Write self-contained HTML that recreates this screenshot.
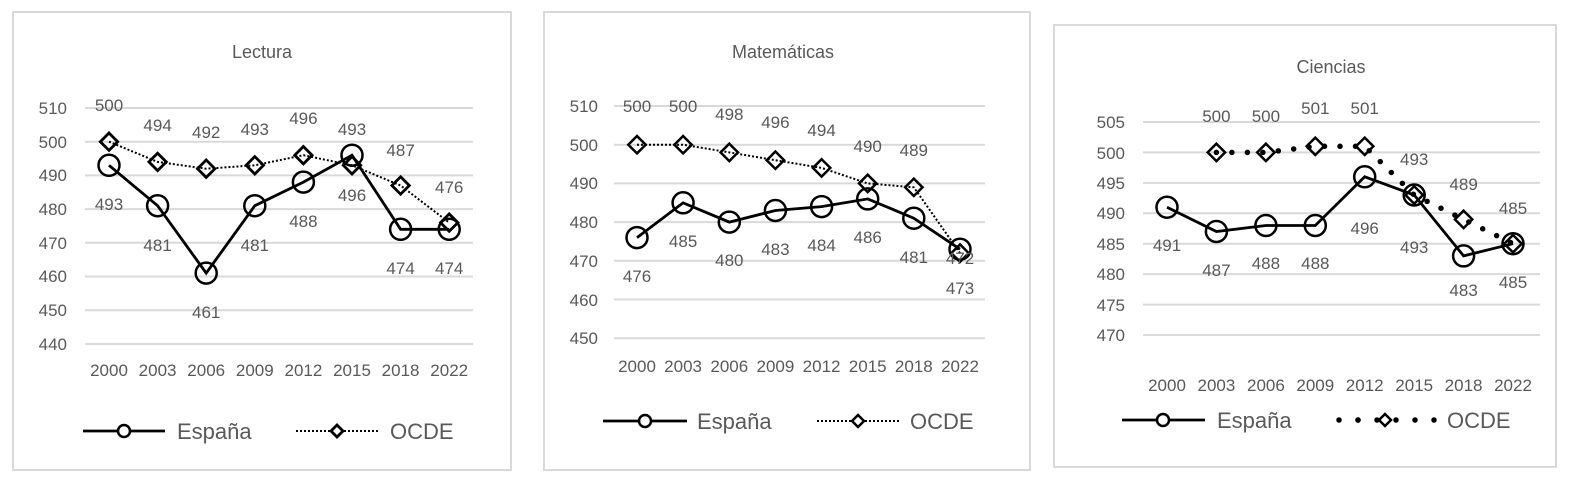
<!DOCTYPE html>
<html><head><meta charset="utf-8"><style>
body{margin:0;background:#fff}
svg text{font-family:"Liberation Sans",sans-serif;fill:#595959}
</style></head><body>
<svg width="1594" height="492" viewBox="0 0 1594 492" xmlns="http://www.w3.org/2000/svg">
<g fill="none" stroke="#d9d9d9" stroke-width="2">
<rect x="13" y="12" width="498" height="458"/>
<rect x="544" y="12" width="486" height="458"/>
<rect x="1054" y="25" width="502" height="442"/>
</g>
<!-- Chart 1 -->
<text x="262" y="58" font-size="18" text-anchor="middle">Lectura</text>
<g stroke="#d9d9d9" stroke-width="2">
<line x1="85" x2="473" y1="108" y2="108"/><line x1="85" x2="473" y1="141.7" y2="141.7"/><line x1="85" x2="473" y1="175.4" y2="175.4"/><line x1="85" x2="473" y1="209.1" y2="209.1"/><line x1="85" x2="473" y1="242.8" y2="242.8"/><line x1="85" x2="473" y1="276.5" y2="276.5"/><line x1="85" x2="473" y1="310.2" y2="310.2"/><line x1="85" x2="473" y1="344" y2="344"/>
</g>
<g font-size="17" text-anchor="end">
<text x="67" y="114">510</text><text x="67" y="148">500</text><text x="67" y="181">490</text><text x="67" y="215">480</text><text x="67" y="249">470</text><text x="67" y="282">460</text><text x="67" y="316">450</text><text x="67" y="350">440</text>
</g>
<g font-size="17" text-anchor="middle">
<text x="109" y="376">2000</text><text x="157.6" y="376">2003</text><text x="206.2" y="376">2006</text><text x="254.8" y="376">2009</text><text x="303.4" y="376">2012</text><text x="352" y="376">2015</text><text x="400.6" y="376">2018</text><text x="449.2" y="376">2022</text>
</g>
<polyline fill="none" stroke="#000" stroke-width="2" stroke-dasharray="2,2" points="109,141.7 157.6,161.9 206.2,168.7 254.8,165.3 303.4,155.2 352,165.3 400.6,185.5 449.2,222.6"/>
<polyline fill="none" stroke="#000" stroke-width="2.8" points="109,165.3 157.6,205.7 206.2,273.1 254.8,205.7 303.4,182.1 352,155.2 400.6,229.3 449.2,229.3"/>
<g fill="none" stroke="#000" stroke-width="2.5">
<circle cx="109" cy="165.3" r="10.5"/><circle cx="157.6" cy="205.7" r="10.5"/><circle cx="206.2" cy="273.1" r="10.5"/><circle cx="254.8" cy="205.7" r="10.5"/><circle cx="303.4" cy="182.1" r="10.5"/><circle cx="352" cy="155.2" r="10.5"/><circle cx="400.6" cy="229.3" r="10.5"/><circle cx="449.2" cy="229.3" r="10.5"/>
</g>
<g fill="none" stroke="#000" stroke-width="2.8">
<path d="M109,133l8.7,8.7-8.7,8.7-8.7-8.7z"/><path d="M157.6,153.2l8.7,8.7-8.7,8.7-8.7-8.7z"/><path d="M206.2,160l8.7,8.7-8.7,8.7-8.7-8.7z"/><path d="M254.8,156.6l8.7,8.7-8.7,8.7-8.7-8.7z"/><path d="M303.4,146.5l8.7,8.7-8.7,8.7-8.7-8.7z"/><path d="M352,156.6l8.7,8.7-8.7,8.7-8.7-8.7z"/><path d="M400.6,176.8l8.7,8.7-8.7,8.7-8.7-8.7z"/><path d="M449.2,213.9l8.7,8.7-8.7,8.7-8.7-8.7z"/>
</g>
<g font-size="17" text-anchor="middle">
<text x="109" y="111">500</text><text x="157.6" y="131">494</text><text x="206.2" y="138">492</text><text x="254.8" y="135">493</text><text x="303.4" y="124">496</text><text x="352" y="135">493</text><text x="400.6" y="156">487</text><text x="449.2" y="193">476</text>
<text x="109" y="210">493</text><text x="157.6" y="251">481</text><text x="206.2" y="318">461</text><text x="254.8" y="251">481</text><text x="303.4" y="227">488</text><text x="352" y="201">496</text><text x="400.6" y="274">474</text><text x="449.2" y="274">474</text>
</g>
<line x1="83" x2="165" y1="431" y2="431" stroke="#000" stroke-width="2.8"/>
<circle cx="124" cy="431" r="6" fill="#fff" stroke="#000" stroke-width="2.5"/>
<text x="177" y="439" font-size="22">España</text>
<line x1="296" x2="378" y1="431" y2="431" stroke="#000" stroke-width="2" stroke-dasharray="2,2"/>
<path d="M337,425l6,6-6,6-6-6z" fill="#fff" stroke="#000" stroke-width="2.8"/>
<text x="390" y="439" font-size="22">OCDE</text>

<!-- Chart 2 -->
<text x="783" y="58" font-size="18" text-anchor="middle">Matemáticas</text>
<g stroke="#d9d9d9" stroke-width="2">
<line x1="614" x2="985" y1="106" y2="106"/><line x1="614" x2="985" y1="144.7" y2="144.7"/><line x1="614" x2="985" y1="183.4" y2="183.4"/><line x1="614" x2="985" y1="222.1" y2="222.1"/><line x1="614" x2="985" y1="260.8" y2="260.8"/><line x1="614" x2="985" y1="299.5" y2="299.5"/><line x1="614" x2="985" y1="338.2" y2="338.2"/>
</g>
<g font-size="17" text-anchor="end">
<text x="598" y="112">510</text><text x="598" y="151">500</text><text x="598" y="189">490</text><text x="598" y="228">480</text><text x="598" y="267">470</text><text x="598" y="306">460</text><text x="598" y="344">450</text>
</g>
<g font-size="17" text-anchor="middle">
<text x="637" y="372">2000</text><text x="683.1" y="372">2003</text><text x="729.3" y="372">2006</text><text x="775.4" y="372">2009</text><text x="821.6" y="372">2012</text><text x="867.7" y="372">2015</text><text x="913.8" y="372">2018</text><text x="960" y="372">2022</text>
</g>
<polyline fill="none" stroke="#000" stroke-width="2" stroke-dasharray="2,2" points="637,144.7 683.1,144.7 729.3,152.4 775.4,160.2 821.6,167.9 867.7,183.4 913.8,187.3 960,253.1"/>
<polyline fill="none" stroke="#000" stroke-width="2.8" points="637,237.6 683.1,202.8 729.3,222.1 775.4,210.5 821.6,206.6 867.7,198.9 913.8,218.2 960,249.2"/>
<g fill="none" stroke="#000" stroke-width="2.5">
<circle cx="637" cy="237.6" r="10.5"/><circle cx="683.1" cy="202.8" r="10.5"/><circle cx="729.3" cy="222.1" r="10.5"/><circle cx="775.4" cy="210.5" r="10.5"/><circle cx="821.6" cy="206.6" r="10.5"/><circle cx="867.7" cy="198.9" r="10.5"/><circle cx="913.8" cy="218.2" r="10.5"/><circle cx="960" cy="249.2" r="10.5"/>
</g>
<g fill="none" stroke="#000" stroke-width="2.5">
<path d="M637,136l8.7,8.7-8.7,8.7-8.7-8.7z"/><path d="M683.1,136l8.7,8.7-8.7,8.7-8.7-8.7z"/><path d="M729.3,143.7l8.7,8.7-8.7,8.7-8.7-8.7z"/><path d="M775.4,151.5l8.7,8.7-8.7,8.7-8.7-8.7z"/><path d="M821.6,159.2l8.7,8.7-8.7,8.7-8.7-8.7z"/><path d="M867.7,174.7l8.7,8.7-8.7,8.7-8.7-8.7z"/><path d="M913.8,178.6l8.7,8.7-8.7,8.7-8.7-8.7z"/><path d="M960,244.4l8.7,8.7-8.7,8.7-8.7-8.7z"/>
</g>
<g font-size="17" text-anchor="middle">
<text x="637" y="112">500</text><text x="683.1" y="112">500</text><text x="729.3" y="120">498</text><text x="775.4" y="128">496</text><text x="821.6" y="136">494</text><text x="867.7" y="152">490</text><text x="913.8" y="156">489</text><text x="960" y="264">472</text>
<text x="637" y="282">476</text><text x="683.1" y="247">485</text><text x="729.3" y="266">480</text><text x="775.4" y="255">483</text><text x="821.6" y="251">484</text><text x="867.7" y="243">486</text><text x="913.8" y="263">481</text><text x="960" y="294">473</text>
</g>
<line x1="603" x2="687" y1="421" y2="421" stroke="#000" stroke-width="2.8"/>
<circle cx="645" cy="421" r="6" fill="#fff" stroke="#000" stroke-width="2.5"/>
<text x="697" y="429" font-size="22">España</text>
<line x1="817" x2="900" y1="421" y2="421" stroke="#000" stroke-width="2" stroke-dasharray="2,2"/>
<path d="M858,415l6,6-6,6-6-6z" fill="#fff" stroke="#000" stroke-width="2.5"/>
<text x="910" y="429" font-size="22">OCDE</text>

<!-- Chart 3 -->
<text x="1331" y="73" font-size="18" text-anchor="middle">Ciencias</text>
<g stroke="#d9d9d9" stroke-width="2">
<line x1="1143" x2="1540" y1="122" y2="122"/><line x1="1143" x2="1540" y1="152.4" y2="152.4"/><line x1="1143" x2="1540" y1="182.9" y2="182.9"/><line x1="1143" x2="1540" y1="213.3" y2="213.3"/><line x1="1143" x2="1540" y1="243.7" y2="243.7"/><line x1="1143" x2="1540" y1="274.1" y2="274.1"/><line x1="1143" x2="1540" y1="304.6" y2="304.6"/><line x1="1143" x2="1540" y1="335" y2="335"/>
</g>
<g font-size="17" text-anchor="end">
<text x="1125" y="128">505</text><text x="1125" y="159">500</text><text x="1125" y="189">495</text><text x="1125" y="219">490</text><text x="1125" y="250">485</text><text x="1125" y="280">480</text><text x="1125" y="311">475</text><text x="1125" y="341">470</text>
</g>
<g font-size="17" text-anchor="middle">
<text x="1167" y="391">2000</text><text x="1216.4" y="391">2003</text><text x="1265.9" y="391">2006</text><text x="1315.3" y="391">2009</text><text x="1364.7" y="391">2012</text><text x="1414.2" y="391">2015</text><text x="1463.6" y="391">2018</text><text x="1513" y="391">2022</text>
</g>
<polyline fill="none" stroke="#000" stroke-width="5.5" stroke-linecap="round" stroke-dasharray="0,15.5" points="1216.4,152.4 1265.9,152.4 1315.3,146.3 1364.7,146.3 1414.2,195 1463.6,219.4 1513,243.7"/>
<polyline fill="none" stroke="#000" stroke-width="2.8" points="1167,207.2 1216.4,231.5 1265.9,225.5 1315.3,225.5 1364.7,176.8 1414.2,195 1463.6,255.9 1513,243.7"/>
<g fill="none" stroke="#000" stroke-width="2.5">
<circle cx="1167" cy="207.2" r="10.5"/><circle cx="1216.4" cy="231.5" r="10.5"/><circle cx="1265.9" cy="225.5" r="10.5"/><circle cx="1315.3" cy="225.5" r="10.5"/><circle cx="1364.7" cy="176.8" r="10.5"/><circle cx="1414.2" cy="195" r="10.5"/><circle cx="1463.6" cy="255.9" r="10.5"/><circle cx="1513" cy="243.7" r="10.5"/>
</g>
<g fill="none" stroke="#000" stroke-width="2.5">
<path d="M1216.4,143.7l8.7,8.7-8.7,8.7-8.7-8.7z"/><path d="M1265.9,143.7l8.7,8.7-8.7,8.7-8.7-8.7z"/><path d="M1315.3,137.6l8.7,8.7-8.7,8.7-8.7-8.7z"/><path d="M1364.7,137.6l8.7,8.7-8.7,8.7-8.7-8.7z"/><path d="M1414.2,186.3l8.7,8.7-8.7,8.7-8.7-8.7z"/><path d="M1463.6,210.7l8.7,8.7-8.7,8.7-8.7-8.7z"/><path d="M1513,235l8.7,8.7-8.7,8.7-8.7-8.7z"/>
</g>
<g font-size="17" text-anchor="middle">
<text x="1216.4" y="122">500</text><text x="1265.9" y="122">500</text><text x="1315.3" y="114">501</text><text x="1364.7" y="114">501</text><text x="1414.2" y="165">493</text><text x="1463.6" y="190">489</text><text x="1513" y="214">485</text>
<text x="1167" y="251">491</text><text x="1216.4" y="276">487</text><text x="1265.9" y="269">488</text><text x="1315.3" y="269">488</text><text x="1364.7" y="234">496</text><text x="1414.2" y="253">493</text><text x="1463.6" y="296">483</text><text x="1513" y="288">485</text>
</g>
<line x1="1122" x2="1205" y1="420" y2="420" stroke="#000" stroke-width="2.8"/>
<circle cx="1163" cy="420" r="6" fill="#fff" stroke="#000" stroke-width="2.5"/>
<text x="1217" y="428" font-size="22">España</text>
<line x1="1358" x2="1435" y1="420" y2="420" stroke="#000" stroke-width="5.5" stroke-linecap="round" stroke-dasharray="0,19"/>
<line x1="1339" x2="1377" y1="420" y2="420" stroke="#000" stroke-width="5.5" stroke-linecap="round" stroke-dasharray="0,19"/>
<path d="M1385,414l6,6-6,6-6-6z" fill="#fff" stroke="#000" stroke-width="2.5"/>
<text x="1447" y="428" font-size="22">OCDE</text>
</svg>
</body></html>
